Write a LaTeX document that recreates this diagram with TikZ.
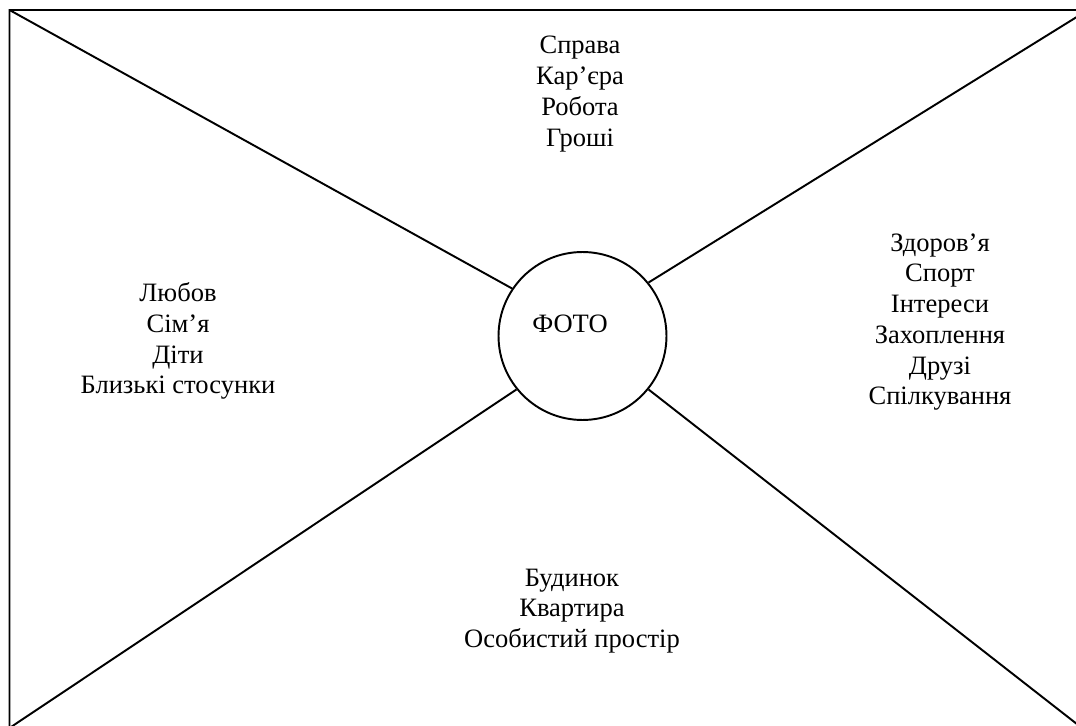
\documentclass[tikz,border=0pt]{standalone}
\usepackage{fontspec}
\setmainfont{Liberation Serif}
\usetikzlibrary{positioning}

\tikzset{
	area/.style={align=center, inner sep=0pt, font=\fontsize{15.1}{17.5}\selectfont},
	ray/.style={line width=1.1pt}
}

\begin{document}
\begin{tikzpicture}[x=0.02cm, y=-0.02cm]
		
		% page and frame
		\useasboundingbox (0, 0) rectangle (1076, 726);
		\clip (0, 0) rectangle (1076, 726);
		\coordinate (tl) at (9.5, 10);
		\coordinate (tr) at (1088, 10);
		\coordinate (bl) at (9.5, 728);
		\coordinate (br) at (1082, 728);
		\draw[ray] (tl) -- (tr) -- (br) -- (bl) -- cycle;
		
		% photo in the middle
		\node[circle, draw, ray, minimum size=3.36cm, inner sep=0pt] (foto) at (582.5, 336) {};
		\node[area] (fototext) at (570, 324) {ФОТО};
		
		% rays from the corners
		\draw[ray] (tl) -- (foto.146);
		\draw[ray] (tr) -- (foto.39);
		\draw[ray] (bl) -- (foto.219);
		\draw[ray] (br) -- (foto.321);
		
		% areas of life
		\node[area] (work) at (580, 94) {Справа\\Кар’єра\\Робота\\Гроші};
		\node[area] (love) at (178, 341) {Любов\\Сім’я\\Діти\\Близькі стосунки};
		\node[area] (health) at (940, 322) {Здоров’я\\Спорт\\Інтереси\\Захоплення\\Друзі\\Спілкування};
		\node[area] (home) at (572, 611) {Будинок\\Квартира\\Особистий простір};
		
	\end{tikzpicture}
\end{document}
